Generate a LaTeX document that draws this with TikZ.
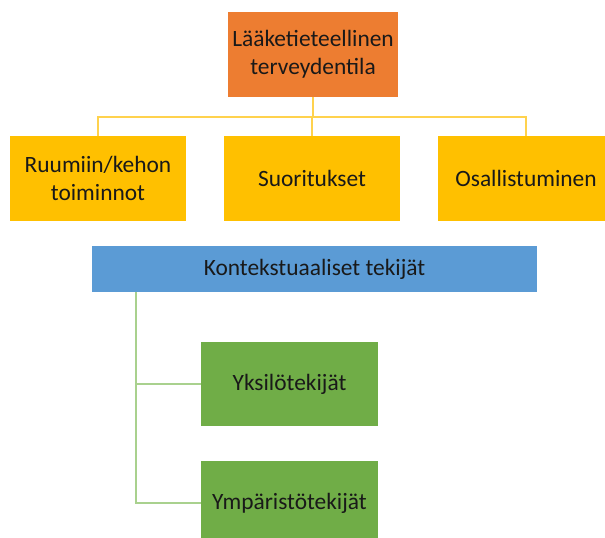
\documentclass[tikz,border=0pt]{standalone}
\usepackage{fontspec}
\setmainfont{Carlito}
\definecolor{topcol}{HTML}{ED7D31}
\definecolor{rowcol}{HTML}{FFC000}
\definecolor{ctxcol}{HTML}{5B9BD5}
\definecolor{leafcol}{HTML}{70AD47}
\definecolor{goldline}{HTML}{FFD24D}
\definecolor{greenline}{HTML}{A9D18E}
\tikzset{
  box/.style={inner sep=0pt, align=center, text=black!90,
    font=\fontsize{23.4}{28}\selectfont},
  goldlink/.style={draw=goldline, line width=1.5pt},
  greenlink/.style={draw=greenline, line width=1.5pt}
}

\begin{document}
\begin{tikzpicture}[x=1pt, y=-1pt]
    \useasboundingbox (0,0) rectangle (605,538);
    \clip (0,0) rectangle (605,538);

    % Top box
    \node[box, fill=topcol, minimum width=170pt, minimum height=85pt] (health) at (313,54.5) {L\"a\"aketieteellinen\\terveydentila};

    % Middle row - left to right
    \node[box, fill=rowcol, minimum width=176pt, minimum height=85pt] (body) at (98,178.5) {Ruumiin/kehon\\toiminnot};
    \node[box, fill=rowcol, minimum width=176pt, minimum height=85pt] (activity) at (312,178.5) {Suoritukset};
    \node[box, fill=rowcol, minimum width=176pt, minimum height=85pt] (participation) at (526,178.5) {Osallistuminen};

    % Context bar and its branches
    \node[box, fill=ctxcol, minimum width=445pt, minimum height=46pt] (context) at (314.5,269) {Kontekstuaaliset tekij\"at};
    \node[box, fill=leafcol, minimum width=177pt, minimum height=84pt] (personal) at (289.5,384) {Yksil\"otekij\"at};
    \node[box, fill=leafcol, minimum width=177pt, minimum height=84pt] (environment) at (289.5,503) {Ymp\"arist\"otekij\"at};
    \coordinate (trunk) at (136,292);

    % Links
    \draw[goldlink] (health.south) -- ++(0,20) -| (body.north);
    \draw[goldlink] (health.south) -- ++(0,20) -| (activity.north);
    \draw[goldlink] (health.south) -- ++(0,20) -| (participation.north);
    \draw[greenlink] (trunk) |- (personal.west);
    \draw[greenlink] (trunk) |- (environment.west);
\end{tikzpicture}
\end{document}
